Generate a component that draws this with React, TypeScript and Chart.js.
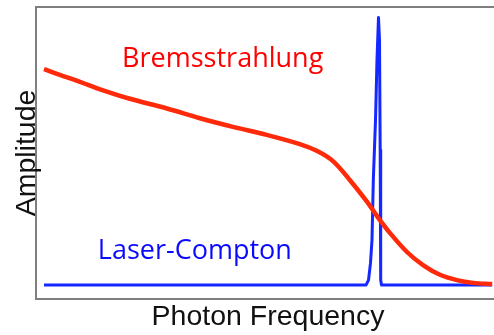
import React, { useEffect, useRef } from "react";
import { Chart, registerables } from "chart.js";

Chart.register(...registerables);

// Bremsstrahlung spectrum (red)
const bremsX = [1.75, 5.2, 9.6, 14.0, 20.5, 28.6, 35.8, 43.0, 50.4, 57.6, 61.4, 64.9, 68.6, 72.3, 74.5, 77.3, 81.0, 84.5, 88.2, 91.9, 95.4, 99.6];
const bremsY = [0.777, 0.756, 0.731, 0.704, 0.670, 0.635, 0.600, 0.569, 0.540, 0.507, 0.482, 0.445, 0.376, 0.299, 0.247, 0.187, 0.119, 0.072, 0.037, 0.018, 0.008, 0.004];

// Laser-Compton spectrum (blue)
const comptonX = [1.75, 72.05, 72.6, 73.03, 73.36, 73.65, 74.13, 74.45, 74.78, 75.0, 75.15, 75.26, 75.44, 99.6];
const comptonY = [0, 0, 0.018, 0.079, 0.162, 0.378, 0.594, 0.809, 0.962, 0.881, 0.486, 0.018, 0, 0];

// Axis ranges and titles
const xRange = [0, 100];
const yRange = [-0.05, 1.0];
const xTitle = "Photon Frequency";
const yTitle = "Amplitude";

// In-plot labels (left x, baseline y) in data units
const bremsLabel = { text: "Bremsstrahlung", x: 18.8, y: 0.784 };
const comptonLabel = { text: "Laser-Compton", x: 13.5, y: 0.094 };

export default function App() {
  const ref = useRef<HTMLCanvasElement | null>(null);

  useEffect(() => {
    document.body.style.margin = "0";
    document.body.style.overflow = "hidden";
    const canvas = ref.current;
    if (!canvas) return;

    const framePlugin = {
      id: "framePlugin",
      afterDraw(chart: any) {
        const { ctx, chartArea, scales } = chart;
        const { left, top, bottom } = chartArea;
        const right = chart.width;
        ctx.save();
        ctx.fillStyle = "#7f7f7f";
        ctx.fillRect(left - 1, top - 1, right - left + 1, 2);
        ctx.fillRect(left - 1, top - 1, 2, bottom - top + 2);
        ctx.fillRect(left - 1, bottom - 1, right - left + 1, 2);

        // axis titles
        ctx.fillStyle = "#111111";
        ctx.font = "28.5px 'Liberation Sans', Arial, sans-serif";
        ctx.textAlign = "center";
        ctx.textBaseline = "alphabetic";
        ctx.fillText(xTitle, (left + right) / 2 + 3, bottom + 26);
        ctx.save();
        ctx.translate(left - 1, (top + bottom) / 2);
        ctx.rotate(-Math.PI / 2);
        ctx.fillText(yTitle, 0, 0);
        ctx.restore();

        // in-plot labels
        ctx.textAlign = "left";
        ctx.font = "27px 'Open Sans', 'Noto Sans', sans-serif";
        ctx.fillStyle = "#ff0000";
        ctx.fillText(bremsLabel.text, scales.x.getPixelForValue(bremsLabel.x), scales.y.getPixelForValue(bremsLabel.y));
        ctx.fillStyle = "#0a0aff";
        ctx.fillText(comptonLabel.text, scales.x.getPixelForValue(comptonLabel.x), scales.y.getPixelForValue(comptonLabel.y));
        ctx.restore();
      },
    };

    const chart = new Chart(canvas, {
      type: "line",
      data: {
        datasets: [
          {
            label: "Bremsstrahlung",
            data: bremsX.map((x, i) => ({ x, y: bremsY[i] })),
            borderColor: "#ff2a0a",
            borderWidth: 4.5,
            pointRadius: 0,
            tension: 0.35,
            fill: false,
          },
          {
            label: "Laser-Compton",
            data: comptonX.map((x, i) => ({ x, y: comptonY[i] })),
            borderColor: "#1428ff",
            borderWidth: 3,
            pointRadius: 0,
            tension: 0,
            fill: false,
            borderJoinStyle: "round",
          },
        ],
      },
      options: {
        responsive: false,
        animation: false,
        layout: { padding: { left: 36, top: 7, right: 0, bottom: 36 } },
        plugins: { legend: { display: false }, tooltip: { enabled: false } },
        scales: {
          x: { type: "linear", min: xRange[0], max: xRange[1], display: false },
          y: { type: "linear", min: yRange[0], max: yRange[1], display: false },
        },
      },
      plugins: [framePlugin],
    });
    return () => chart.destroy();
  }, []);

  return (
    <div style={{ position: "absolute", left: 0, top: 0, width: 494, height: 335, background: "#fff" }}>
      <canvas ref={ref} width={494} height={335} style={{ display: "block" }} />
    </div>
  );
}
